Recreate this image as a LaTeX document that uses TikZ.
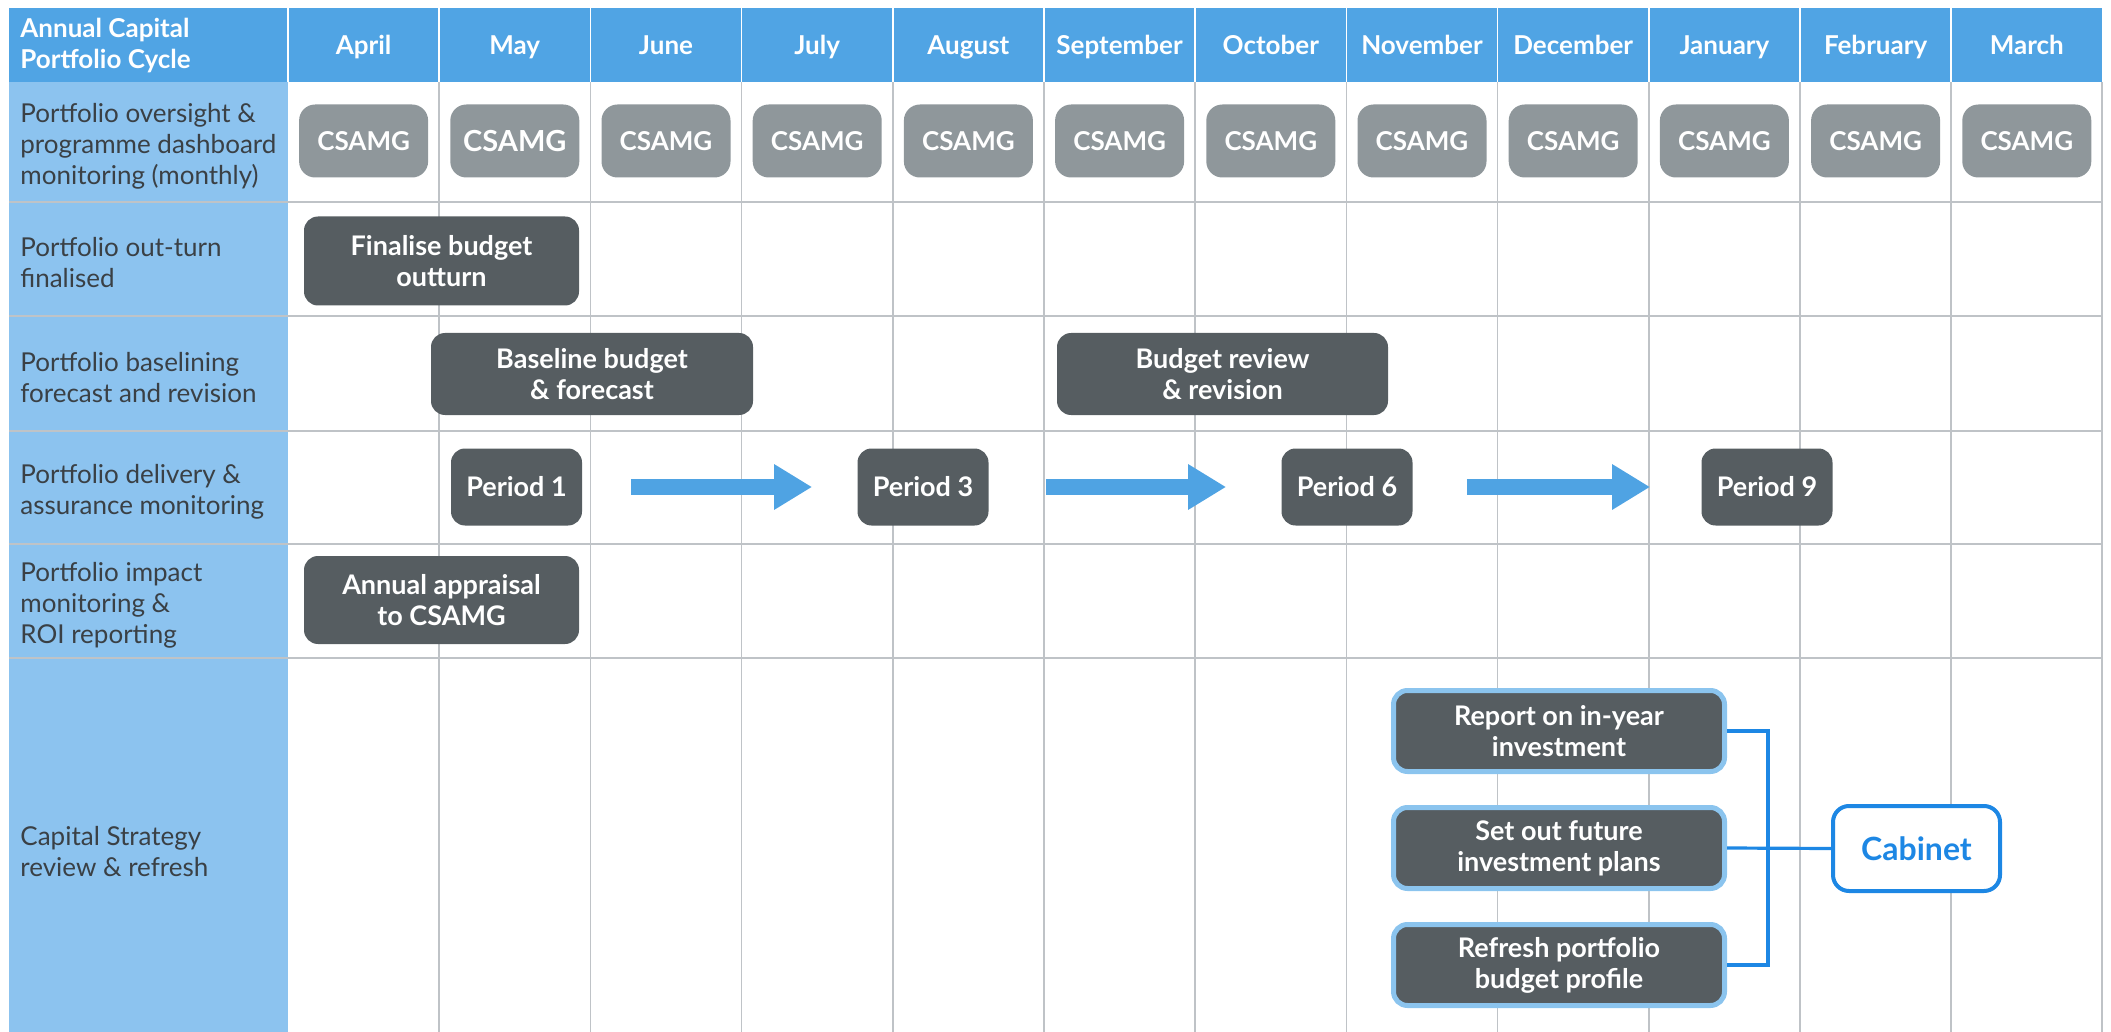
\documentclass[tikz,border=0pt]{standalone}
\usepackage{fontspec}
\setmainfont{Lato}
\usetikzlibrary{arrows.meta}

\definecolor{HeadBlue}{HTML}{50A4E4}
\definecolor{LabelBlue}{HTML}{8CC3EF}
\definecolor{GridGray}{HTML}{BFC3C7}
\definecolor{CsamgGray}{HTML}{8F979B}
\definecolor{BoxGray}{HTML}{565D61}
\definecolor{ArrowBlue}{HTML}{4FA3E3}
\definecolor{RingBlue}{HTML}{8BC4EE}
\definecolor{CabBlue}{HTML}{1D87E4}
\definecolor{LabelText}{HTML}{3A4045}

\begin{document}
\begin{tikzpicture}[x=0.5pt,y=-0.5pt]
  \tikzset{MonthStyle/.style = {
    text          = white,
    font          = \bfseries\fontsize{13}{15.5}\selectfont,
    anchor        = base,
    inner sep     = 0pt
    }
  }
  \tikzset{RowLabelStyle/.style = {
    anchor        = west,
    align         = left,
    text          = LabelText,
    font          = \fontsize{13}{15.5}\selectfont,
    inner sep     = 0pt
    }
  }
  \tikzset{CsamgStyle/.style = {
    shape          = rectangle,
    rounded corners = 8pt,
    fill           = CsamgGray,
    text           = white,
    font           = \bfseries\fontsize{13}{15.5}\selectfont,
    minimum width  = 64.5pt,
    minimum height = 36.5pt,
    inner sep      = 0pt
    }
  }
  \tikzset{TaskStyle/.style = {
    shape          = rectangle,
    rounded corners = 7pt,
    fill           = BoxGray,
    text           = white,
    align          = center,
    font           = \bfseries\fontsize{13.5}{15.5}\selectfont,
    inner sep      = 0pt
    }
  }
  \tikzset{StrategyStyle/.style = {
    TaskStyle,
    draw           = RingBlue,
    line width     = 2.5pt,
    minimum width  = 165.5pt,
    minimum height = 40.5pt
    }
  }
  \tikzset{CabinetStyle/.style = {
    shape          = rectangle,
    rounded corners = 8pt,
    draw           = CabBlue,
    line width     = 2pt,
    fill           = white,
    text           = CabBlue,
    font           = \bfseries\fontsize{16}{19}\selectfont,
    minimum width  = 83.5pt,
    minimum height = 42.5pt,
    inner sep      = 0pt
    }
  }
  \tikzset{StepArrow/.style = {
    draw          = ArrowBlue,
    line width    = 8pt,
    -{Triangle[width=21.5pt,length=19pt]}
    }
  }
  \tikzset{LinkStyle/.style = {
    draw          = CabBlue,
    line width    = 1.6pt
    }
  }

  \useasboundingbox (0,0) rectangle (2111,1032);
  \fill[HeadBlue] (9,8) rectangle (2102,82);
  \fill[LabelBlue] (9,82) rectangle (288,1032);
  \foreach \x in {439.2,590.4,741.6,892.8,1044,1195.2,1346.4,1497.6,1648.8,1800,1951.2}{
    \draw[white, line width=0.8pt] (\x,8) -- (\x,82);
    \draw[GridGray, line width=0.8pt] (\x,82) -- (\x,1032);
  }
  \draw[white, line width=0.8pt] (288,8) -- (288,82);
  \draw[GridGray, line width=0.8pt] (2102,82) -- (2102,1032);
  \foreach \y in {202,316,431,544,658}{
    \draw[GridGray, line width=0.8pt] (9,\y) -- (2102,\y);
  }

  \node[MonthStyle, anchor=west, align=left](title) at (20,46) {Annual Capital\\Portfolio Cycle};
  \node[MonthStyle](m1) at (363.6,55) {April};
  \node[MonthStyle](m2) at (514.8,55) {May};
  \node[MonthStyle](m3) at (666,55) {June};
  \node[MonthStyle](m4) at (817.2,55) {July};
  \node[MonthStyle](m5) at (968.4,55) {August};
  \node[MonthStyle](m6) at (1119.6,55) {September};
  \node[MonthStyle](m7) at (1270.8,55) {October};
  \node[MonthStyle](m8) at (1422,55) {November};
  \node[MonthStyle](m9) at (1573.2,55) {December};
  \node[MonthStyle](m10) at (1724.4,55) {January};
  \node[MonthStyle](m11) at (1875.6,55) {February};
  \node[MonthStyle](m12) at (2026.8,55) {March};

  \node[RowLabelStyle](r1) at (20,146) {Portfolio oversight \&\\programme dashboard\\monitoring (monthly)};
  \node[RowLabelStyle](r2) at (20,263) {Portfolio out-turn\\finalised};
  \node[RowLabelStyle](r3) at (20,378) {Portfolio baselining\\forecast and revision};
  \node[RowLabelStyle](r4) at (20,492) {Portfolio delivery \&\\assurance monitoring};
  \node[RowLabelStyle](r5) at (20,605) {Portfolio impact\\monitoring \&\\ROI reporting};
  \node[RowLabelStyle](r6) at (20,852) {Capital Strategy\\review \& refresh};

  \node[CsamgStyle](c1) at (363.6,141) {CSAMG};
  \node[CsamgStyle, font=\bfseries\fontsize{14.5}{16}\selectfont](c2) at (514.8,141) {CSAMG};
  \node[CsamgStyle](c3) at (666,141) {CSAMG};
  \node[CsamgStyle](c4) at (817.2,141) {CSAMG};
  \node[CsamgStyle](c5) at (968.4,141) {CSAMG};
  \node[CsamgStyle](c6) at (1119.6,141) {CSAMG};
  \node[CsamgStyle](c7) at (1270.8,141) {CSAMG};
  \node[CsamgStyle](c8) at (1422,141) {CSAMG};
  \node[CsamgStyle](c9) at (1573.2,141) {CSAMG};
  \node[CsamgStyle](c10) at (1724.4,141) {CSAMG};
  \node[CsamgStyle](c11) at (1875.6,141) {CSAMG};
  \node[CsamgStyle](c12) at (2026.8,141) {CSAMG};

  \node[TaskStyle, minimum width=137.5pt, minimum height=44.5pt](outturn) at (441.5,261) {Finalise budget\\outturn};
  \node[TaskStyle, minimum width=161pt, minimum height=41pt](baseline) at (592,374) {Baseline budget\\\& forecast};
  \node[TaskStyle, minimum width=165.5pt, minimum height=41pt](review) at (1222.5,374) {Budget review\\\& revision};
  \node[TaskStyle, minimum width=65.5pt, minimum height=38.5pt](p1) at (516.5,487) {Period 1};
  \node[TaskStyle, minimum width=65.5pt, minimum height=38.5pt](p3) at (923,487) {Period 3};
  \node[TaskStyle, minimum width=65.5pt, minimum height=38.5pt](p6) at (1347,487) {Period 6};
  \node[TaskStyle, minimum width=65.5pt, minimum height=38.5pt](p9) at (1767,487) {Period 9};
  \node[TaskStyle, minimum width=137.5pt, minimum height=44pt](appraisal) at (441.5,600) {Annual appraisal\\to CSAMG};

  \node[StrategyStyle](report) at (1559,731) {Report on in-year\\investment};
  \node[StrategyStyle](plans) at (1559,848) {Set out future\\investment plans};
  \node[StrategyStyle](refresh) at (1559,965) {Refresh portfolio\\budget profile};
  \node[CabinetStyle](cabinet) at (1916.5,848.5) {Cabinet};
  \coordinate (bus) at (1768,848);

  \draw[StepArrow, shorten <=24.5pt, shorten >=22.5pt](p1) -- (p3);
  \draw[StepArrow, shorten <=28.5pt, shorten >=27.5pt](p3) -- (p6);
  \draw[StepArrow, shorten <=27pt, shorten >=25.5pt](p6) -- (p9);

  \draw[LinkStyle](report.east) -| (bus) |- (refresh.east);
  \draw[LinkStyle](plans.east) -- (cabinet.west);

  \end{tikzpicture}
\end{document}
